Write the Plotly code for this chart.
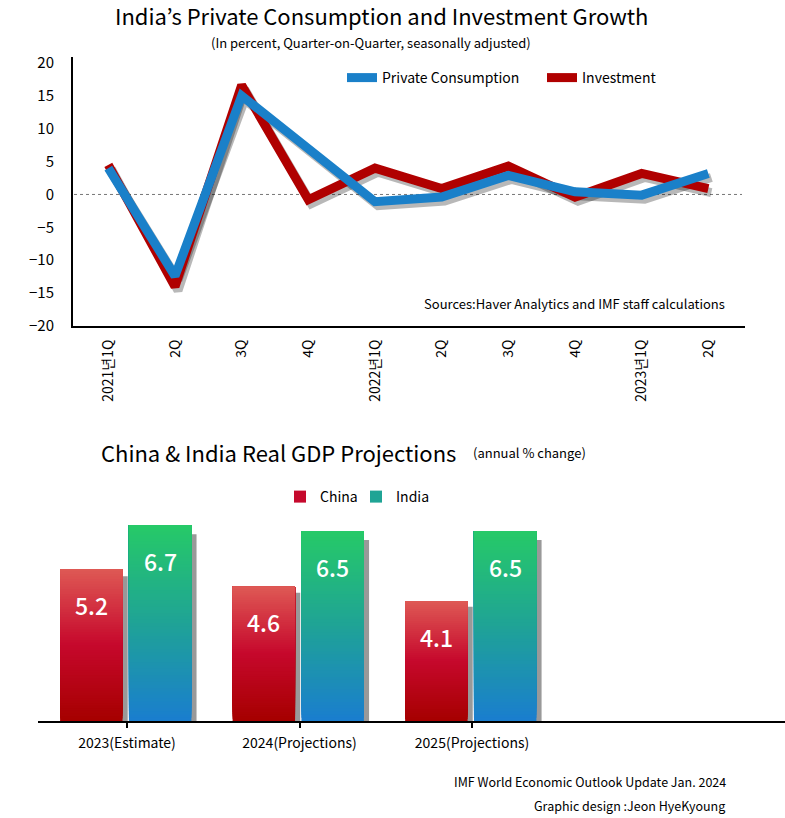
import plotly.graph_objects as go

# ---------------- data ----------------
quarters = ["2021년1Q", "2Q", "3Q", "4Q", "2022년1Q", "2Q", "3Q", "4Q", "2023년1Q", "2Q"]
consumption = [4.0, -12.4, 15.0, 7.0, -1.1, -0.4, 2.9, 0.4, -0.1, 3.2]
investment = [4.5, -14.0, 16.6, -0.8, 4.0, 0.9, 4.3, -0.4, 3.2, 0.9]
y_ticks = [-20, -15, -10, -5, 0, 5, 10, 15, 20]

years = ["2023(Estimate)", "2024(Projections)", "2025(Projections)"]
china = [5.2, 4.6, 4.1]
india = [6.7, 6.5, 6.5]

W, H = 785, 818
FONT = "Noto Sans CJK KR, Noto Sans, sans-serif"
BLUE = "#1a80c9"
RED = "#b00000"


def px(x):
    return x / W


def py(y):
    return 1 - y / H


def lerp(c1, c2, t):
    return tuple(int(round(a + (b - a) * t)) for a, b in zip(c1, c2))


def grad(stops, t):
    for (p1, c1), (p2, c2) in zip(stops, stops[1:]):
        if p1 <= t <= p2:
            return "rgb(%d,%d,%d)" % lerp(c1, c2, (t - p1) / (p2 - p1))
    return "rgb(%d,%d,%d)" % stops[-1][1]


china_stops = [(0.0, (166, 0, 0)), (0.5, (198, 8, 44)), (1.0, (222, 88, 84))]
india_stops = [(0.0, (26, 126, 206)), (0.5, (31, 163, 150)), (1.0, (38, 201, 104))]

fig = go.Figure()
x_idx = list(range(len(quarters)))

# ---------- top chart: shadows (subplot xy, drawn first) ----------
for vals in (investment, consumption):
    fig.add_trace(go.Scatter(x=x_idx, y=vals, mode="lines", xaxis="x", yaxis="y",
                             line=dict(color="rgba(0,0,0,0.28)", width=9),
                             showlegend=False, hoverinfo="skip"))

# ---------- top chart: lines ----------
fig.add_trace(go.Scatter(x=x_idx, y=investment, mode="lines", name="Investment",
                         xaxis="x3", yaxis="y3", legend="legend", legendrank=2,
                         line=dict(color=RED, width=9)))
fig.add_trace(go.Scatter(x=x_idx, y=consumption, mode="lines", name="Private Consumption",
                         xaxis="x3", yaxis="y3", legend="legend", legendrank=1,
                         line=dict(color=BLUE, width=9)))

# ---------- bottom chart ----------
CH_OFF, IN_OFF, BW = -0.388, 0.011, 0.362
SH = 0.03
for vals, off in ((china, CH_OFF), (india, IN_OFF)):
    fig.add_trace(go.Bar(x=years, y=vals, xaxis="x2", yaxis="y2", offset=off + SH, width=BW,
                         marker=dict(color="rgba(70,70,70,0.55)", line=dict(width=0)),
                         showlegend=False, hoverinfo="skip"))

N = 60
for name, vals, off, stops in (("China", china, CH_OFF, china_stops),
                               ("India", india, IN_OFF, india_stops)):
    for k in range(N):
        t = k / (N - 1)
        fig.add_trace(go.Bar(
            x=years,
            base=[v * k / N for v in vals],
            y=[v - v * k / N for v in vals],
            xaxis="x2", yaxis="y4", offset=off, width=BW,
            marker=dict(color=grad(stops, t), line=dict(width=0)),
            name=name, legend="legend2", legendgroup=name,
            showlegend=(k == N // 2), hoverinfo="skip"))

annotations = []
for vals, xs in ((china, -36), (india, 33)):
    for cat, v in zip(years, vals):
        annotations.append(dict(x=cat, y=v, xref="x2", yref="y4", text=f"{v:.1f}",
                                showarrow=False, xshift=xs, yshift=-36,
                                font=dict(family=FONT, size=23, color="white",
                                          weight=500)))

annotations += [
    dict(x=px(381), y=py(15), xref="paper", yref="paper", showarrow=False,
         text="India’s Private Consumption and Investment Growth",
         font=dict(family=FONT, size=22, color="black"), xanchor="center", yanchor="middle"),
    dict(x=px(371), y=py(43), xref="paper", yref="paper", showarrow=False,
         text="(In percent, Quarter-on-Quarter, seasonally adjusted)",
         font=dict(family=FONT, size=13, color="black"), xanchor="center", yanchor="middle"),
    dict(x=px(727), y=py(304), xref="paper", yref="paper", showarrow=False,
         text="Sources:Haver Analytics and IMF staff calculations",
         font=dict(family=FONT, size=13, color="black"), xanchor="right", yanchor="middle"),
    dict(x=px(99), y=py(452), xref="paper", yref="paper", showarrow=False,
         text="China & India Real GDP Projections",
         font=dict(family=FONT, size=22, color="black"), xanchor="left", yanchor="middle"),
    dict(x=px(471), y=py(452), xref="paper", yref="paper", showarrow=False,
         text="(annual % change)",
         font=dict(family=FONT, size=13, color="black"), xanchor="left", yanchor="middle"),
    dict(x=px(728), y=py(781), xref="paper", yref="paper", showarrow=False,
         text="IMF World Economic Outlook Update Jan. 2024",
         font=dict(family=FONT, size=12.5, color="black"), xanchor="right", yanchor="middle"),
    dict(x=px(727), y=py(817), xref="paper", yref="paper", showarrow=False,
         text="Graphic design :Jeon HyeKyoung",
         font=dict(family=FONT, size=12.5, color="black"), xanchor="right", yanchor="bottom"),
]

TOP_X = [px(73), px(745)]
TOP_Y = [py(326), py(57)]
XR = [-0.53, 9.55]
YR = [-20, 20.9]

fig.update_layout(
    width=W, height=H, autosize=False,
    margin=dict(l=0, r=0, t=0, b=0, pad=0, autoexpand=False),
    paper_bgcolor="white", plot_bgcolor="rgba(0,0,0,0)",
    barmode="overlay",
    font=dict(family=FONT, color="black"),
    annotations=annotations,
    shapes=[dict(type="line", xref="paper", x0=px(74), x1=px(742), yref="y3", y0=0, y1=0,
                 line=dict(color="#777777", width=1, dash="dot"), layer="below")],
    xaxis=dict(domain=[px(76), px(748)], range=XR, visible=False, anchor="y",
               automargin=False),
    yaxis=dict(domain=[py(330), py(61)], range=YR, visible=False, anchor="x",
               automargin=False),
    xaxis3=dict(domain=TOP_X, range=XR, anchor="y3", tickmode="array", tickvals=x_idx,
                ticktext=quarters, tickangle=-90, showline=True, linecolor="black",
                linewidth=2, showgrid=False, zeroline=False, ticks="", automargin=False,
                ticklabelstandoff=6, tickfont=dict(family=FONT, size=14, color="black")),
    yaxis3=dict(domain=TOP_Y, range=YR, anchor="x3", tickmode="array", tickvals=y_ticks,
                showline=True, linecolor="black", linewidth=2, showgrid=False,
                zeroline=False, ticks="", ticklabelstandoff=14, automargin=False,
                tickfont=dict(family=FONT, size=15, color="black")),
    xaxis2=dict(domain=[px(38), 1], range=[-0.516, 3.814], type="category", anchor="y2",
                showline=True, linecolor="black", linewidth=2, ticks="outside",
                ticklen=5, tickwidth=2, tickcolor="black", showgrid=False, automargin=False,
                ticklabelstandoff=3,
                tickfont=dict(family=FONT, size=14, color="black")),
    yaxis2=dict(domain=[py(721), py(510.4)], range=[0, 7.2 * 1.05], visible=False,
                anchor="x2", showgrid=False, automargin=False),
    yaxis4=dict(domain=[py(721), py(510.4)], range=[0, 7.2], visible=False,
                anchor="x2", overlaying="y2", showgrid=False, automargin=False),
    legend=dict(orientation="h", x=px(342), y=py(62), xanchor="left", yanchor="top",
                font=dict(family=FONT, size=14, color="black"), bgcolor="rgba(0,0,0,0)",
                traceorder="normal", entrywidth=155, entrywidthmode="pixels"),
    legend2=dict(orientation="h", x=px(280), y=py(497), xanchor="left", yanchor="middle",
                 font=dict(family=FONT, size=14, color="black"), bgcolor="rgba(0,0,0,0)",
                 entrywidth=31, entrywidthmode="pixels"),
)

post = (
    "document.documentElement.style.margin='0';"
    "document.documentElement.style.overflow='hidden';"
    "document.body.style.margin='0';"
    "document.body.style.padding='0';"
    "document.body.style.overflow='hidden';"
    "document.body.style.height='818px';"
    "var gd=document.getElementById('{plot_id}');"
    "gd.parentElement.style.height='818px';"
    "gd.parentElement.style.overflow='hidden';"
)
fig.write_html("out.html", config={"responsive": False, "displayModeBar": False},
               post_script=post)
